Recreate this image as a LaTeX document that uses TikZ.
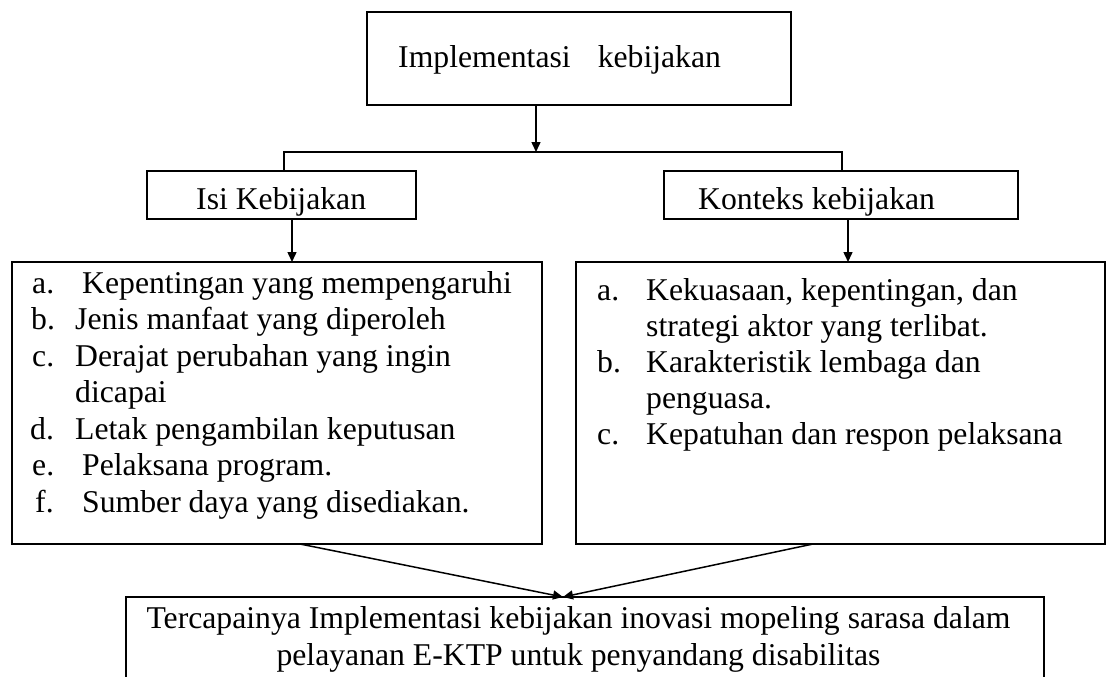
\documentclass[tikz,border=0pt]{standalone}
\usepackage{fontspec}
\setmainfont{Liberation Serif}
\usetikzlibrary{arrows.meta}
\begin{document}
\begin{tikzpicture}[x=1pt,y=-1pt,
  box/.style={draw,rectangle,line width=1.8pt,inner sep=0pt,outer sep=0pt},
  txt/.style={anchor=base west,inner sep=0pt,font=\fontsize{31.7}{36.5}\selectfont},
  ctxt/.style={anchor=base,inner sep=0pt,font=\fontsize{31.7}{36.5}\selectfont},
  conn/.style={line width=1.5pt},
  arr/.style={conn,-{Triangle[length=10pt,width=9pt]}}]
\useasboundingbox (0,0) rectangle (1106,677);
\clip (0,0) rectangle (1106,677);
% boxes
\node[box,minimum width=424pt,minimum height=93pt] (top) at (579,58.5) {};
\node[box,minimum width=269pt,minimum height=48pt] (isi) at (281.5,195) {};
\node[box,minimum width=354pt,minimum height=48pt] (kon) at (841,195) {};
\node[box,minimum width=530pt,minimum height=282pt] (ll) at (277,403) {};
\node[box,minimum width=529pt,minimum height=282pt] (rl) at (840.5,403) {};
\node[box,minimum width=918pt,minimum height=120pt] (bot) at (585,657) {};
% texts
\node[txt] (ttop) at (398,67) {Implementasi\hspace{27pt}kebijakan};
\node[txt] (tisi) at (196,209) {Isi Kebijakan};
\node[txt] (tkon) at (698,209) {Konteks kebijakan};
% left list
\node[txt] (la) at (32,293) {a.};
\node[txt] (lat) at (82,293) {Kepentingan yang mempengaruhi};
\node[txt] (lb) at (31,329.5) {b.};
\node[txt] (lbt) at (75,329.5) {Jenis manfaat yang diperoleh};
\node[txt] (lc) at (32,366) {c.};
\node[txt] (lct) at (75,366) {Derajat perubahan yang ingin};
\node[txt] (lct2) at (75,402.5) {dicapai};
\node[txt] (ld) at (30,439) {d.};
\node[txt] (ldt) at (75,439) {Letak pengambilan keputusan};
\node[txt] (le) at (32,475.5) {e.};
\node[txt] (let) at (82,475.5) {Pelaksana program.};
\node[txt] (lf) at (35,512) {f.};
\node[txt] (lft) at (82,512) {Sumber daya yang disediakan.};
% right list
\node[txt] (ra) at (597,300) {a.};
\node[txt] (rat) at (646,300) {Kekuasaan, kepentingan, dan};
\node[txt] (rat2) at (646,336) {strategi aktor yang terlibat.};
\node[txt] (rb) at (597,372) {b.};
\node[txt] (rbt) at (646,372) {Karakteristik lembaga dan};
\node[txt] (rbt2) at (646,408) {penguasa.};
\node[txt] (rc) at (597,444) {c.};
\node[txt] (rct) at (646,444) {Kepatuhan dan respon pelaksana};
% bottom text
\node[ctxt] (b1) at (578.5,628) {Tercapainya Implementasi kebijakan inovasi mopeling sarasa dalam};
\node[ctxt] (b2) at (578.5,665) {pelayanan E-KTP untuk penyandang disabilitas};
% connector coordinates
\coordinate (j) at (536,152);
\coordinate (jl) at (284,152);
\coordinate (jr) at (842,152);
\coordinate (xi) at (292,240);
\coordinate (xk) at (848,240);
\coordinate (sl) at (300,544);
\coordinate (sr) at (813,544);
\coordinate (tip) at (563,597);
% connectors
\draw[arr] (j |- top.south) -- (j);
\draw[conn] (jl |- isi.north) -- (jl) -- (jr) -- (jr |- kon.north);
\draw[arr] (xi |- isi.south) -- (xi |- ll.north);
\draw[arr] (xk |- kon.south) -- (xk |- rl.north);
\draw[arr] (sl |- ll.south) -- (tip |- bot.north);
\draw[arr] (sr |- rl.south) -- (tip |- bot.north);
\end{tikzpicture}
\end{document}
